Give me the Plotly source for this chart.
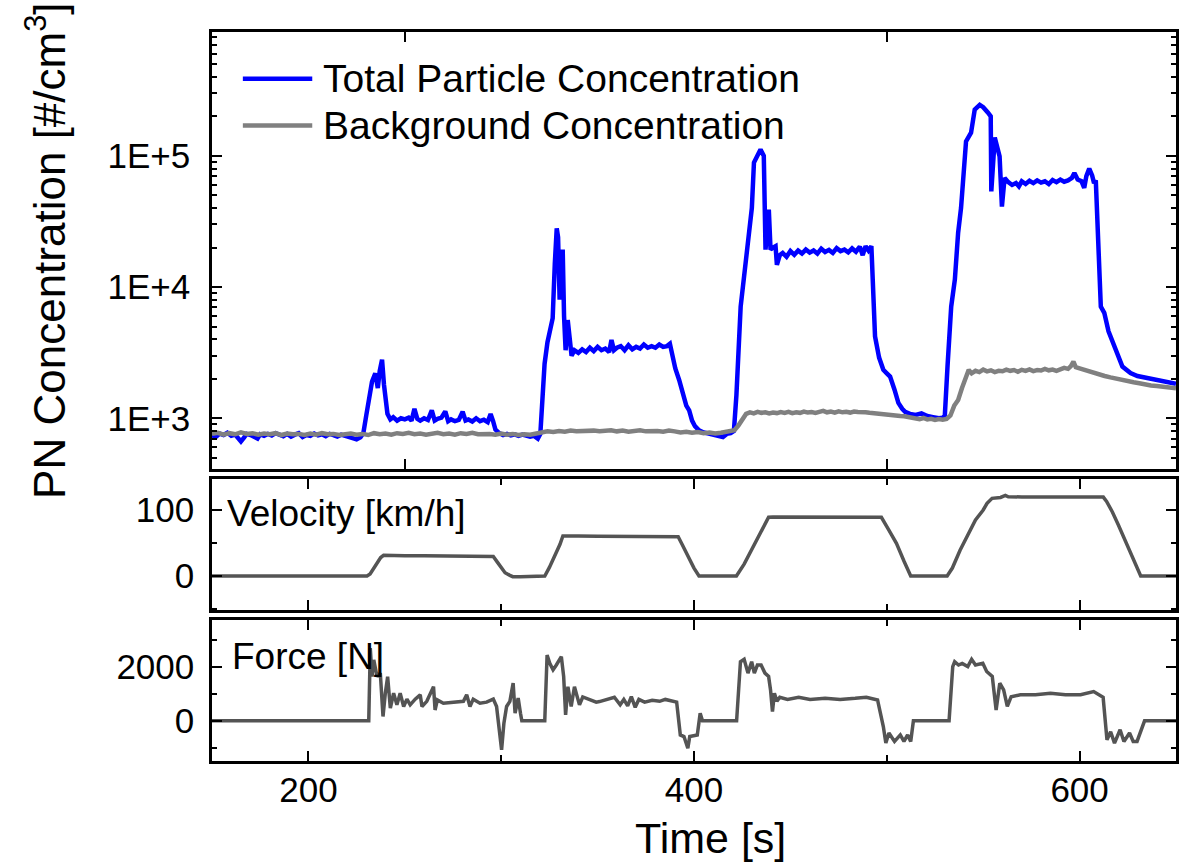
import math
import plotly.graph_objects as go
from plotly.subplots import make_subplots

# ---------------------------------------------------------------- data
time_total = [
    150, 152, 154, 156, 158, 160, 162, 164, 165, 166.5, 168, 170, 172, 173.6, 175, 177, 179, 181, 183, 185,
    187, 189, 191, 193, 195, 197, 199, 201, 203, 205, 207, 209, 211, 213, 215, 217, 219, 221, 223, 225,
    227, 228.5, 230, 231.5, 233, 234.7, 236, 237, 238.2, 239.2, 240.2, 241, 242.5, 244, 246, 248, 250, 252,
    253.5, 255, 256.5, 258, 260, 262, 264, 265.5, 267, 269, 271, 272.5, 274, 276, 278, 280, 281.5, 283,
    285, 287, 289, 291, 293, 294.5, 295.8, 297, 299, 301, 303, 305, 307, 309, 311, 313, 315, 317, 319,
    320.3, 321.2, 322.5, 324, 325.5, 326.7, 327.8, 328.8, 329.5, 330.3, 331.2, 331.9, 332.6, 333.4, 334.5,
    335.5, 336.5, 338, 340, 342, 344, 346, 348, 350, 352, 354, 356, 357.2, 358.5, 360, 362, 364, 366, 368,
    370, 372, 374, 376, 378, 380, 382, 384, 386, 387.5, 388.5, 390.3, 392.3, 394, 396, 397.5, 399, 400.5,
    402.6, 405, 408, 411, 413, 415, 417, 419, 420.7, 422, 424.2, 426, 428.5, 430, 431.1, 433, 434.5, 436.2,
    437.1, 438.8, 439.7, 441, 442.3, 443, 444.5, 446, 448, 450, 452, 454, 456, 458, 460, 462, 464, 466,
    468, 470, 472, 474, 476, 478, 480, 482, 484, 486, 487.5, 489, 490.5, 492, 493.9, 496, 498.2, 500,
    501.7, 504, 506, 508, 509.5, 512, 515, 518, 521, 524, 527, 529, 530.1, 531.5, 533.4, 535.3, 537, 538.5,
    540.4, 541.1, 543.7, 545.6, 548.2, 550, 552.5, 553.9, 554.2, 556, 558.5, 559.7, 561.1, 563, 565, 567,
    568.5, 570, 572, 574, 576, 578, 580, 582, 584, 586, 588, 590, 592, 594, 596, 597.3, 599, 601, 602.4,
    603.5, 605, 606.5, 607.5, 608.4, 611, 612.8, 615, 618, 622.2, 626.4, 630, 635.1, 640, 644, 647, 650,
]
pn_total = [
    740, 720, 765, 745, 775, 735, 750, 700, 665, 710, 760, 745, 720, 700, 755, 735, 760, 740, 770, 745,
    730, 760, 725, 750, 770, 720, 745, 735, 765, 740, 755, 730, 760, 745, 725, 750, 735, 715, 700, 690,
    715, 770, 1050, 1500, 1900, 2200, 1700, 2300, 2800, 1800, 1250, 1080, 980, 1020, 960, 1000, 980, 1010,
    960, 1180, 990, 960, 1000, 970, 1150, 960, 990, 1010, 1130, 950, 980, 950, 970, 1120, 960, 980,
    945, 1000, 950, 975, 935, 1080, 950, 820, 770, 745, 760, 740, 755, 735, 750, 740, 725, 735, 700,
    760, 1300, 2600, 3800, 4800, 5800, 15000, 28000, 24000, 8000, 17000, 19300, 6000, 3300, 5600,
    3800, 3000, 3300, 3150, 3350, 3200, 3450, 3250, 3500, 3300, 3400, 3200, 3950, 3300, 3450, 3550, 3300, 3600, 3350,
    3500, 3400, 3650, 3450, 3550, 3450, 3650, 3500, 3550, 3700, 3200, 2400, 1960, 1550, 1250, 1150, 960, 870,
    810, 780, 760, 750, 740, 720, 760, 770, 800, 1500, 7100, 12000, 23000, 40000, 89000, 100000, 112000, 100000,
    19300, 39000, 19300, 20000, 20500, 14800, 17500, 18200, 17000, 18800, 17600, 19000, 18000, 19300, 18300, 19000, 18000, 19600,
    18500, 19200, 18200, 19800, 18800, 19300, 18400, 19700, 18600, 20300, 17500, 20500, 19000, 20500, 4200, 2900, 2340, 2200,
    2080, 1650, 1310, 1180, 1120, 1080, 1060, 1090, 1040, 1020, 1000, 1010, 1050, 2500, 7100, 11400, 26000, 40000,
    89000, 129000, 150000, 225000, 245000, 235000, 213000, 200000, 53600, 138000, 99000, 41000, 68000, 63000, 60000, 62000,
    58500, 64000, 61000, 64500, 62000, 65000, 62500, 64000, 61000, 65500, 63000, 66000, 63500, 65000, 68000, 74000, 66000, 64000, 57000,
    70000, 80000, 71000, 62000, 65000, 7100, 6360, 4600, 3520, 2480, 2210, 2100, 2030, 1950, 1900, 1860, 1830,
]

time_background = [
    150, 153, 156, 159, 162, 165, 168, 171, 174, 177, 180, 183, 186, 189, 192, 195, 198, 201, 204, 207,
    210, 213, 216, 219, 222, 225, 228, 231, 234, 237, 240, 243, 246, 249, 252, 255, 258, 261, 264, 267,
    270, 273, 276, 279, 282, 285, 288, 291, 294, 297, 300, 303, 306, 309, 312, 315, 318, 321, 324, 327,
    330, 333, 336, 339, 342, 345, 348, 351, 354, 357, 360, 363, 366, 369, 372, 375, 378, 381, 384, 387,
    390, 393, 396, 399, 402, 405, 408, 411, 414, 417, 419, 421, 423, 425, 427, 429, 431, 433, 435, 437,
    439, 441, 443, 445, 447, 449, 451, 453, 455, 457, 459, 461, 463, 465, 467, 469, 471, 473, 475, 477,
    479, 481, 483, 485, 487, 489, 491, 493, 495, 497, 499, 501, 503, 505, 507, 509, 511, 513, 515, 517,
    519, 521, 523, 525, 527, 529, 531, 533, 535, 537, 539, 541, 542.5, 544, 546, 548, 550, 552, 554, 556,
    558, 560, 562, 564, 566, 568, 570, 572, 574, 576, 578, 580, 582, 584, 586, 588, 590, 592, 594, 595.5,
    596.8, 598, 600, 602, 604, 606, 608, 610, 613, 616, 619, 622, 625, 628, 631, 634, 637, 640, 643, 646, 650,
]
pn_background = [
    760, 775, 750, 770, 755, 780, 760, 770, 750, 765, 755, 770, 745, 765, 755, 760, 745, 765, 750, 770,
    755, 760, 745, 755, 765, 750, 760, 745, 770, 755, 765, 750, 770, 760, 775, 755, 765, 750, 760, 775,
    755, 765, 750, 770, 760, 775, 755, 765, 760, 750, 765, 750, 760, 745, 755, 750, 760, 780, 795, 785,
    800, 790, 805, 795, 800, 790, 805, 795, 800, 810, 795, 805, 790, 800, 810, 795, 805, 800, 790, 805,
    795, 780, 790, 775, 785, 770, 780, 765, 775, 785, 790, 810, 880, 980, 1080, 1110, 1090, 1120, 1100, 1110,
    1090, 1105, 1095, 1115, 1100, 1120, 1095, 1110, 1100, 1125, 1105, 1115, 1100, 1120, 1140, 1110, 1125, 1105, 1130, 1110,
    1120, 1105, 1125, 1115, 1120, 1110, 1100, 1095, 1080, 1085, 1070, 1060, 1065, 1050, 1040, 1035, 1020, 1010, 1000, 985,
    1005, 980, 990, 970, 985, 975, 990, 1050, 1250, 1380, 1700, 2100, 2340, 2200, 2300, 2250, 2350, 2280, 2320, 2250,
    2300, 2280, 2350, 2300, 2330, 2260, 2340, 2300, 2360, 2290, 2330, 2310, 2380, 2320, 2350, 2300, 2370, 2420, 2380, 2500,
    2700, 2450, 2400, 2350, 2280, 2250, 2180, 2140, 2100, 2050, 2000, 1950, 1910, 1880, 1850, 1800, 1780, 1760, 1730, 1720, 1690,
]

time_velocity = [
    150, 230.4, 232, 234, 236, 237.5, 239, 242, 250, 260, 270, 280, 290, 294, 295.9, 298, 300, 302, 304.5,
    306, 310, 315, 322.6, 325, 328, 330.5, 332, 335, 340, 350, 370, 385, 391.8, 394, 396, 397.8, 400,
    402.6, 422, 426, 430, 433, 436, 438.7, 441, 450, 460, 480, 497.2, 501, 505, 509, 512.4, 531.3,
    534, 538, 542, 546, 550, 552, 554.6, 557, 559, 561.5, 563, 570, 590, 612.3, 614, 617, 620, 624, 628,
    631.7, 650,
]
velocity = [
    0, 0, 3, 12, 22, 28, 31.3, 31, 30.8, 30.6, 30.4, 30.2, 30, 29.8, 29.5, 21, 12, 5, 1,
    -1, -1.2, -1, 0, 13, 32, 48, 60.6, 61, 60.5, 60.3, 60.2, 60, 59.6, 47, 35, 24, 12,
    0, 0, 18, 40, 57, 75, 89, 89.5, 89.4, 89.3, 89.2, 89, 70, 49.5, 22, 0, 0,
    12, 39, 62, 85, 100, 110, 117.7, 118.5, 119, 122, 120, 119.8, 119.8, 119.5, 113, 97, 78, 52, 25,
    0, 0,
]

time_force = [
    150, 231.3, 232.1, 233, 233.9, 235.6, 237.3, 238.7, 239.9, 241.1, 242.5, 244.2, 245.9, 247.6, 249.4,
    251.1, 252.8, 255.4, 258, 258.9, 261.4, 264.9, 265.7, 266.9, 270, 275.2, 280.4, 282.1, 283.8, 285.5,
    289, 292.4, 295.9, 297.6, 299, 300.2, 301.4, 302.8, 304.5, 306.2, 307.2, 308.8, 310, 310.7, 322.6,
    323.8, 325.2, 326.9, 328.6, 331.2, 332.4, 333.4, 334.6, 336.3, 338, 340.6, 342.3, 345.8, 349.3, 351,
    358.7, 361.7, 363.6, 365.6, 367.5, 369.5, 371.4, 374.4, 378.3, 382.2, 385.1, 391, 392.9, 394.8, 396.8,
    397.8, 401.7, 403.2, 404.4, 422.1, 424.1, 426, 428, 429.9, 431.3, 432.9, 434.8, 436.8, 438.7, 439.7,
    440.7, 441.7, 443, 444.5, 448.5, 454.3, 460.2, 468, 475.8, 483.6, 489.4, 495.2, 498.2, 499.5, 501.1,
    504, 507, 508.9, 510.8, 512.4, 513.8, 532.3, 534.2, 535.2, 537.2, 539.1, 542, 544, 546, 549.8, 551.8,
    554.7, 556.7, 558.6, 560.6, 562.5, 564.5, 569.3, 577.1, 584.9, 592.7, 600.5, 607.3, 612.2, 614.2,
    616.1, 618.1, 621, 623, 625.9, 627.8, 629.8, 631.7, 633.7, 650,
]
force = [
    0, 0, 2680, 1630, 2250, 1630, 1760, 160, 1020, 1630, 470, 1020, 590, 1020, 530,
    800, 590, 800, 960, 530, 720, 1260, 400, 770, 650, 690, 720, 960, 530, 800,
    650, 690, 800, 530, -210, -1070, -90, 530, 720, 1390, 280, 840, 280, 0, 0,
    2430, 2120, 1880, 2060, 2370, 1630, 220, 1260, 530, 1260, 590, 880, 800, 690, 710,
    870, 590, 790, 550, 890, 500, 790, 690, 760, 720, 790, 690, -520, -580, -1010,
    -580, -520, 280, 0, 0, 2180, 2270, 1760, 2180, 1760, 2060, 2060, 1760, 1640, 1140,
    340, 1020, 720, 870, 790, 870, 790, 830, 790, 830, 870, 770, -210, -820, -450,
    -760, -520, -760, -520, -760, 0, 0, 2000, 2180, 2060, 2120, 2000, 2270, 2060, 2120, 1820,
    1640, 400, 1390, 1140, 530, 890, 960, 960, 1020, 960, 960, 1080, 870, -700,
    -400, -820, -330, -760, -450, -760, -760, -400, 0, 0,
]

pn_ticks = [1e3, 1e4, 1e5]
pn_tick_text = ["1E+3", "1E+4", "1E+5"]
legend_labels = ["Total Particle Concentration", "Background Concentration"]

# ---------------------------------------------------------------- style
FONT = "Liberation Sans, Arial, Helvetica, sans-serif"
BLUE = "#0000ff"
GREY = "#808080"
DARK = "#545454"
TICK_SIZE = 35

fig = make_subplots(rows=3, cols=1)

fig.add_trace(go.Scatter(x=time_total, y=pn_total, mode="lines",
                         line=dict(color=BLUE, width=4.5), name=legend_labels[0]), row=1, col=1)
fig.add_trace(go.Scatter(x=time_background, y=pn_background, mode="lines",
                         line=dict(color=GREY, width=4.5), name=legend_labels[1]), row=1, col=1)
fig.add_trace(go.Scatter(x=time_velocity, y=velocity, mode="lines",
                         line=dict(color=DARK, width=3.5), name="Velocity"), row=2, col=1)
fig.add_trace(go.Scatter(x=time_force, y=force, mode="lines",
                         line=dict(color=DARK, width=3.5), name="Force"), row=3, col=1)

frame = dict(showline=True, linecolor="black", linewidth=2.5, mirror="ticks",
             ticks="inside", ticklen=10, tickwidth=2, tickcolor="black",
             showgrid=False, zeroline=False,
             tickfont=dict(family=FONT, size=TICK_SIZE, color="black"))


def minor_ticks(vals, length=5):
    return dict(tickvals=vals, ticks="inside", ticklen=length, tickwidth=2, tickcolor="black")


minor_log = [k * 10 ** d for d in (2, 3, 4, 5) for k in range(2, 10)
             if 400 <= k * 10 ** d <= 9e5]

fig.update_layout(
    width=1191, height=864,
    margin=dict(l=212, r=12, t=32, b=103),
    paper_bgcolor="white", plot_bgcolor="white",
    showlegend=False,
    font=dict(family=FONT, color="black"),
    xaxis=dict(frame, range=[150, 650], tickvals=[250, 500], showticklabels=False),
    xaxis2=dict(frame, range=[150, 650], tickvals=[200, 400, 600], showticklabels=False,
                minor=minor_ticks([300, 500], 6)),
    xaxis3=dict(frame, range=[150, 650], tickvals=[200, 400, 600], ticktext=["200", "400", "600"],
                ticklabelstandoff=-4, minor=minor_ticks([300, 500], 6)),
    yaxis=dict(frame, type="log", domain=[0.4003, 1.0], range=[2.612, 5.944],
               tickvals=pn_ticks, ticktext=pn_tick_text, ticklabelstandoff=12,
               minor=minor_ticks(minor_log)),
    yaxis2=dict(frame, domain=[0.2069, 0.3866], range=[-51.8, 146.7],
                tickvals=[0, 100], ticklabelstandoff=8, minor=minor_ticks([-50, 50])),
    yaxis3=dict(frame, domain=[0.0, 0.1937], range=[-1481, 3727],
                tickvals=[0, 2000], ticklabelstandoff=8, minor=minor_ticks([-1000, 1000, 3000])),
)

# legend drawn as line samples plus labels inside the top panel
legend_rows = [(0.893, BLUE), (0.786, GREY)]
for (ypos, color), label in zip(legend_rows, legend_labels):
    fig.add_shape(type="line", xref="x domain", yref="y domain",
                  x0=0.032, x1=0.104, y0=ypos, y1=ypos,
                  line=dict(color=color, width=4.5))
    fig.add_annotation(xref="x domain", yref="y domain", x=0.1135, y=ypos,
                       xanchor="left", yanchor="middle", showarrow=False, text=label,
                       font=dict(family=FONT, size=39, color="black"))

# panel labels
fig.add_annotation(xref="x2 domain", yref="y2 domain", x=0.014, y=0.74,
                   xanchor="left", yanchor="middle", showarrow=False, text="Velocity [km/h]",
                   font=dict(family=FONT, size=37, color="black"))
fig.add_annotation(xref="x3 domain", yref="y3 domain", x=0.019, y=0.74,
                   xanchor="left", yanchor="middle", showarrow=False, text="Force [N]",
                   font=dict(family=FONT, size=37, color="black"))

# axis titles
fig.add_annotation(xref="paper", yref="paper", x=-0.172, y=0.70,
                   xanchor="center", yanchor="middle", showarrow=False, textangle=-90,
                   text="PN Concentration [#/cm<sup>3</sup>]",
                   font=dict(family=FONT, size=44, color="black"))
fig.add_annotation(xref="paper", yref="paper", x=0.517, y=-0.105,
                   xanchor="center", yanchor="middle", showarrow=False,
                   text="Time [s]", font=dict(family=FONT, size=43, color="black"))

fig.write_html("out.html")
